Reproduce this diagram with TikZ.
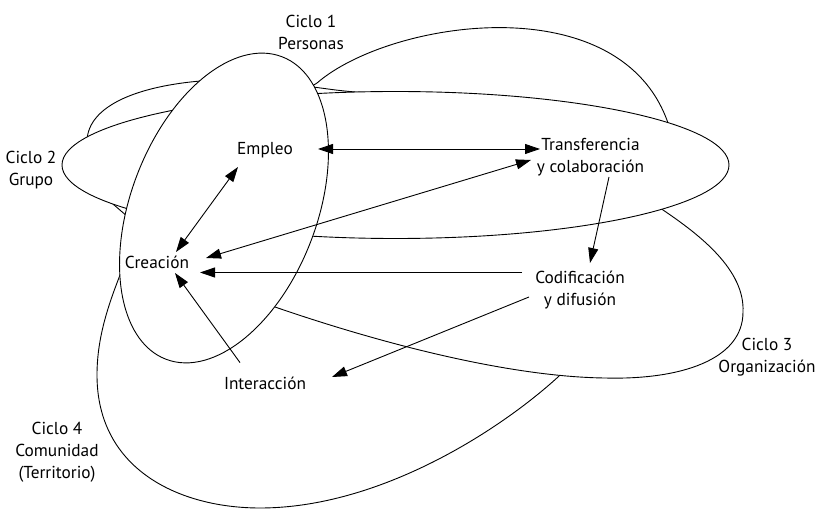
\documentclass[tikz,border=0pt]{standalone}
\usepackage{fontspec}
\setmainfont{PT Sans}
\usetikzlibrary{arrows.meta,calc}
\begin{document}
\begin{tikzpicture}[x=1pt,y=-1pt,
  ring/.style={line width=0.9pt, fill=white},
  openring/.style={line width=0.9pt},
  lab/.style={font=\fontsize{17.3}{22}\selectfont, inner sep=0pt, align=center},
  arr/.style={line width=0.9pt, -{Triangle[length=15pt,width=10pt]}},
  darr/.style={line width=0.9pt, {Triangle[length=15pt,width=10pt]}-{Triangle[length=15pt,width=10pt]}}]
\fill[white] (0,0) rectangle (819,510);
\useasboundingbox (0,0) rectangle (819,510);
% Ciclo 4 (visible part, ends hidden under other rings)
\draw[openring] (124,265) .. controls (110,300) and (97,335) .. (97,375)
  .. controls (97,470) and (180,508) .. (260,508)
  .. controls (380,508) and (500,430) .. (558,377)
  .. controls (575,361) and (590,345) .. (600,330);
% Ciclo 3
\draw[ring] (275,307) .. controls (230,290) and (255,120) .. (317,83)
  .. controls (390,20) and (620,-15) .. (668,123)
  .. controls (680,160) and (640,195) .. (663,210)
  .. controls (700,235) and (745,270) .. (743,312)
  .. controls (743,360) and (680,380) .. (605,378)
  .. controls (520,377) and (400,350) .. cycle;
% second outline of Ciclo 2
\draw[openring] (87,141) .. controls (88,105) and (140,84) .. (215,80) .. controls (275,78) and (320,90) .. (360,92.3);
\draw[openring] (106,198) -- (128,217);
% Ciclo 2
\draw[ring] (395.5,165) ellipse [x radius=333.5, y radius=73.5];
% Ciclo 1
\draw[ring, rotate around={69:(224,208)}] (224,208) ellipse [x radius=162, y radius=93];
% labels
\node[lab] (c1) at (311,32.4) {Ciclo 1\\Personas};
\node[lab] (c2) at (31,170) {Ciclo 2\\Grupo};
\node[lab] (c3) at (767,356.7) {Ciclo 3\\Organización};
\node[lab] (c4) at (57,452.6) {Ciclo 4\\Comunidad\\(Territorio)};
\node[lab] (emp) at (265,150.2) {Empleo};
\node[lab] (tra) at (590.5,157.3) {Transferencia\\y colaboración};
\node[lab] (cre) at (157,262) {Creación};
\node[lab] (cod) at (580,289.9) {Codificación\\y difusión};
\node[lab] (int) at (265,383.6) {Interacción};
% arrows
\draw[darr] ($(emp)+(53,-1.2)$) -- ($(tra)+(-50.5,-8.3)$);
\draw[darr] ($(emp)+(-27,16.8)$) -- ($(cre)+(19,-10)$);
\draw[darr] ($(cre)+(49,-4)$) -- ($(tra)+(-59.5,2.7)$);
\draw[arr] ($(tra)+(18.5,19.7)$) -- ($(cod)+(10,-26.9)$);
\draw[arr] ($(cod)+(-58,-17.4)$) -- ($(cre)+(43,10.5)$);
\draw[arr] ($(cod)+(-51,7.1)$) -- ($(int)+(67,-6.6)$);
\draw[arr] ($(int)+(-25,-21)$) -- ($(cre)+(18,11)$);
\end{tikzpicture}
\end{document}
